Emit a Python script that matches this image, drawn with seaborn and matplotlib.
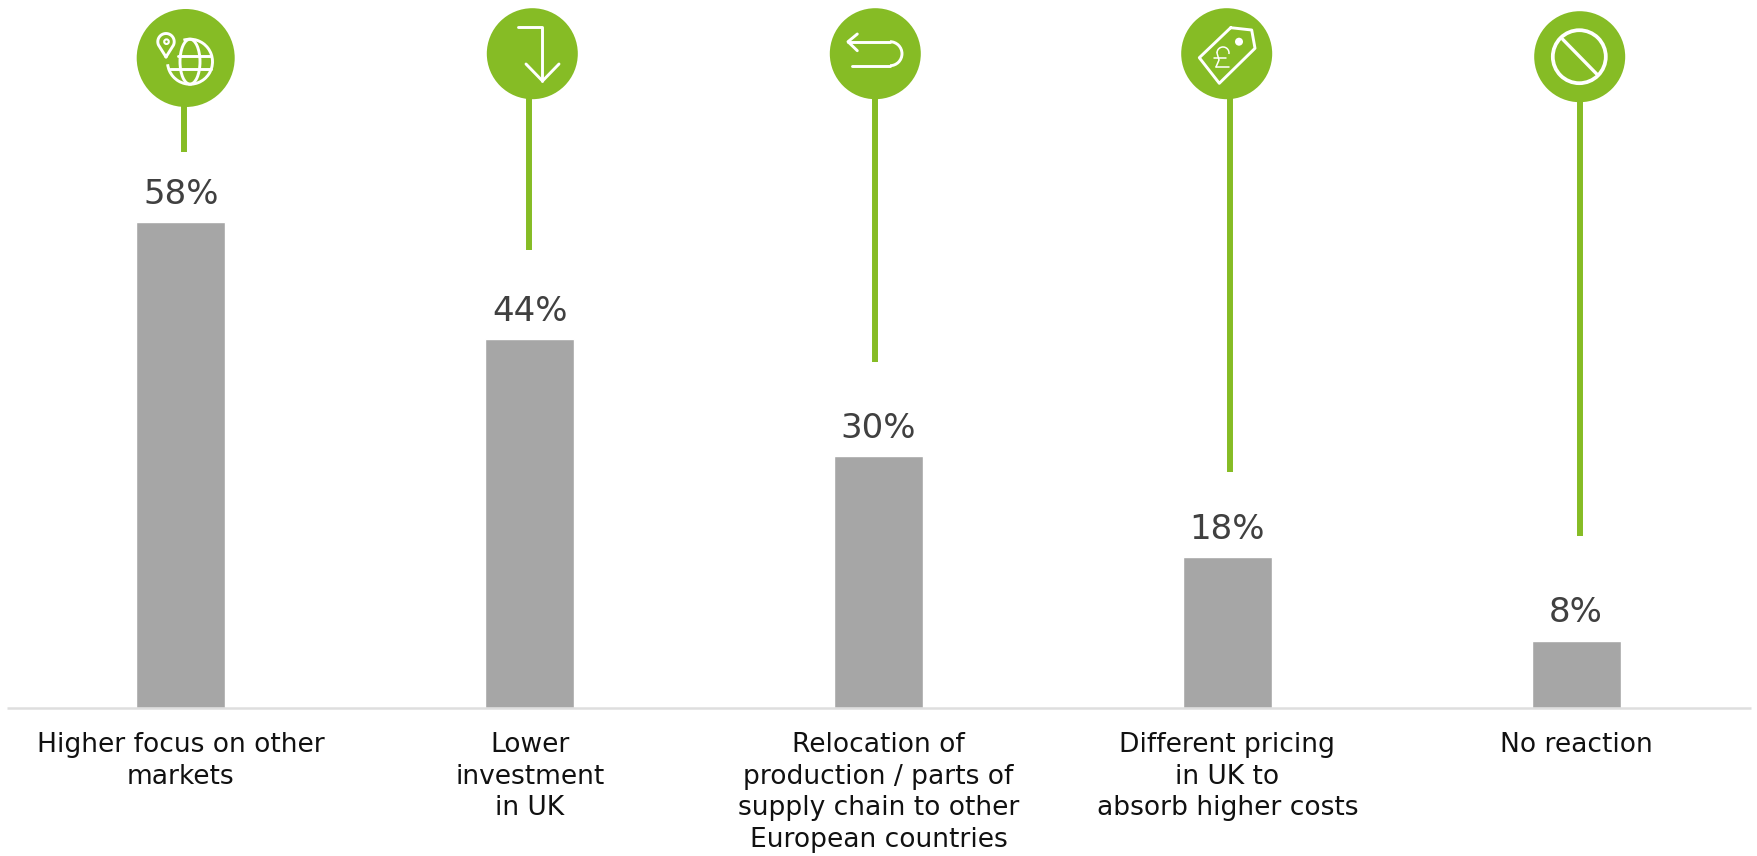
import numpy as np
import pandas as pd
import seaborn as sns
import matplotlib
matplotlib.use("Agg")
import matplotlib.pyplot as plt
from matplotlib.patches import Circle, Ellipse, Arc

categories = [
    "Higher focus on other\nmarkets",
    "Lower\ninvestment\nin UK",
    "Relocation of\nproduction / parts of\nsupply chain to other\nEuropean countries",
    "Different pricing\nin UK to\nabsorb higher costs",
    "No reaction",
]
shares = [58, 44, 30, 18, 8]
value_labels = ["58%", "44%", "30%", "18%", "8%"]

GREEN = "#86BC25"
W, H = 1758, 856
BASE_Y = 707.5
PX_PER_UNIT = 8.37
LEFT, RIGHT = 6.5, 1750.5

sns.set_theme(style="white")
plt.rcParams["font.family"] = ["DejaVu Sans"]

fig = plt.figure(figsize=(W / 100, H / 100), dpi=100, facecolor="white")
ax = fig.add_axes([LEFT / W, 1 - BASE_Y / H, (RIGHT - LEFT) / W, BASE_Y / H])
df = pd.DataFrame({"category": categories, "share": shares})
sns.barplot(data=df, x="category", y="share", color="#A6A6A6", saturation=1,
            width=0.255, ax=ax)
ax.set_xlim(-0.5, 4.5)
ax.set_ylim(0, BASE_Y / PX_PER_UNIT)
ax.set_xlabel("")
ax.set_ylabel("")
ax.set_yticks([])
sns.despine(ax=ax, left=True)
ax.spines["bottom"].set_color("#DEDEDE")
ax.spines["bottom"].set_linewidth(1.8)
ax.spines["bottom"].set_capstyle("butt")
ax.tick_params(axis="x", length=0, pad=0)
ax.set_xticks(range(5))
ax.set_xticklabels([])

for i, (v, t) in enumerate(zip(shares, value_labels)):
    ax.annotate(t, (i, v), xytext=(0, 8), textcoords="offset points",
                ha="center", va="bottom", fontsize=24.5, color="#404040")
    ax.annotate(categories[i], (i, 0), xytext=(0, -17.5), textcoords="offset points",
                ha="center", va="top", fontsize=19.1, color="#111111", linespacing=1.29,
                annotation_clip=False)

# Overlay in pixel units for the callout pins and their icons
ov = fig.add_axes([0, 0, 1, 1], facecolor="none")
ov.set_xlim(0, W)
ov.set_ylim(H, 0)
ov.axis("off")

pins = [
    (185.7, 58, 49, 184, 152),
    (532.3, 53.7, 45.5, 528.7, 250),
    (875.3, 53.7, 45.5, 875.5, 362),
    (1226.7, 53.7, 45.5, 1229.7, 472),
    (1579.7, 56.7, 45.5, 1579.7, 536),
]
for cx, cy, r, sx, end in pins:
    ov.plot([sx, sx], [cy, end], color=GREEN, lw=4.3, solid_capstyle="butt", zorder=1)
    ov.add_patch(Circle((cx, cy), r, fc=GREEN, ec="none", zorder=2))

icon = dict(color="white", solid_capstyle="round", solid_joinstyle="round", zorder=3)


def stroke(xs, ys, lw=2.1):
    ov.plot(xs, ys, lw=lw, **icon)


def outline(patch, lw=2.1):
    patch.set(fc="none", ec="white", lw=lw, zorder=3)
    ov.add_patch(patch)


# Map pin: a round head closing on a lower tip
pin_x, pin_y, pin_r = 166, 41.7, 8.2
head = np.radians(np.linspace(205, -25, 40))
stroke(np.r_[pin_x, pin_x + pin_r * np.cos(head), pin_x],
       np.r_[57, pin_y - pin_r * np.sin(head), 57])
ov.add_patch(Circle((pin_x + 0.5, pin_y), 2.3, fc="none", ec="white", lw=1.5, zorder=3))

# Globe with a gap in the outline beside the pin
gx, gy, gr = 190, 61.7, 22.5
outline(Arc((gx, gy), 2 * gr, 2 * gr, theta1=-107, theta2=173.5))
outline(Ellipse((gx, gy), 20, 2 * gr))
stroke([178, gx + 20], [55.5, 55.5])
stroke([170, gx + 21], [69, 69])

# Down-turning arrow
stroke([518, 542.5, 542.5], [27, 27, 81])
stroke([526, 542.5, 559], [64, 81, 64])

# Return arrow
stroke([848, 890], [41.7, 41.7])
stroke([857.3, 848, 857.3], [34, 41.7, 50.7])
stroke([852, 890], [65.7, 65.7])
outline(Arc((890, 53.7), 24, 24, theta1=-90, theta2=90))

# Price tag with a pound sign
tag_x = [1230.7, 1251.7, 1255, 1219.3, 1199.3, 1230.7]
tag_y = [27.7, 30, 48.3, 83.3, 57.7, 27.7]
stroke(tag_x, tag_y)
ov.add_patch(Circle((1239, 41.7), 4, fc="white", ec="none", zorder=3))
outline(Arc((1223, 53), 12, 12, theta1=-180, theta2=10), lw=1.1)
stroke([1217, 1219, 1216], [53, 60, 67], 1.1)
stroke([1214, 1226], [58, 58], 1.1)
stroke([1216, 1229], [67, 67], 1.1)

# No-entry symbol
outline(Circle((1579.3, 56.7), 26.5), lw=2.7)
stroke([1562.7, 1596.7], [39.3, 74], 2.4)

fig.savefig("out.png", dpi=100)
